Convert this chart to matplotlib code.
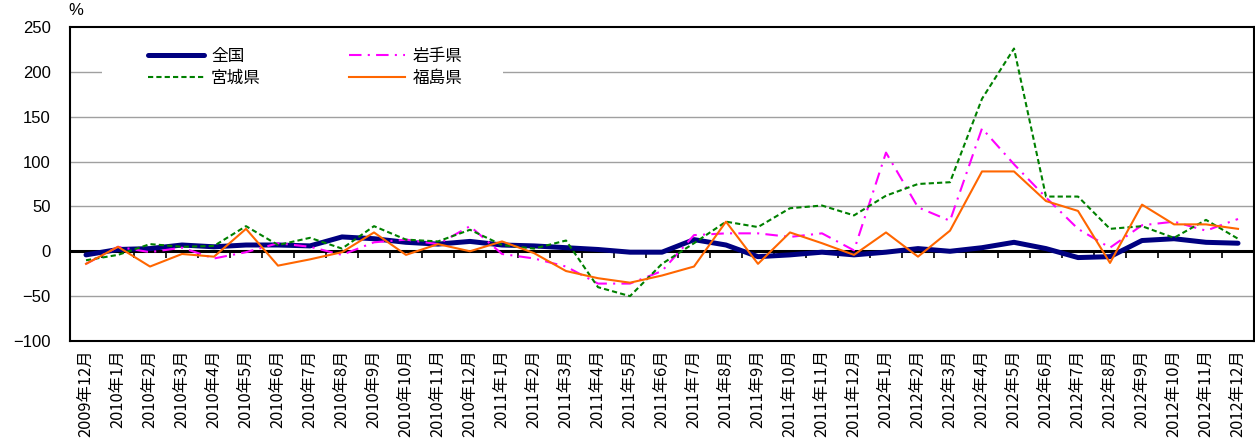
import numpy as np
import matplotlib
matplotlib.use("Agg")
import matplotlib.pyplot as plt
from matplotlib.patches import Rectangle

plt.rcParams['font.family'] = ['Liberation Sans', 'Noto Sans CJK JP', 'DejaVu Sans']

months = ["2009年12月", "2010年1月", "2010年2月", "2010年3月", "2010年4月", "2010年5月",
          "2010年6月", "2010年7月", "2010年8月", "2010年9月", "2010年10月", "2010年11月",
          "2010年12月", "2011年1月", "2011年2月", "2011年3月", "2011年4月", "2011年5月",
          "2011年6月", "2011年7月", "2011年8月", "2011年9月", "2011年10月", "2011年11月",
          "2011年12月", "2012年1月", "2012年2月", "2012年3月", "2012年4月", "2012年5月",
          "2012年6月", "2012年7月", "2012年8月", "2012年9月", "2012年10月", "2012年11月",
          "2012年12月"]

zenkoku = [-4, 2, 3, 7, 5, 7, 7, 6, 16, 14, 10, 8, 11, 7, 6, 4, 2, -1, -1, 13, 7, -6, -4, -1,
           -4, -1, 3, 0, 4, 10, 3, -7, -6, 12, 14, 10, 9]
iwate = [-14, 5, -1, 4, -8, -1, 9, 5, -4, 10, 13, 8, 28, -3, -8, -17, -36, -36, -22, 18, 20, 20,
         16, 20, 1, 110, 49, 34, 137, 97, 60, 25, 4, 29, 33, 23, 36]
miyagi = [-10, -4, 8, 5, 6, 28, 7, 15, 3, 28, 13, 11, 24, 7, 3, 12, -40, -50, -14, 9, 33, 27,
          48, 51, 40, 62, 75, 77, 170, 226, 61, 61, 25, 28, 15, 35, 14]
fukushima = [-14, 5, -17, -3, -6, 25, -16, -9, -1, 21, -4, 8, 0, 11, -2, -22, -30, -35, -27, -17,
             33, -14, 21, 9, -4, 21, -6, 23, 89, 89, 56, 45, -13, 52, 30, 30, 25]

yticks = [-100, -50, 0, 50, 100, 150, 200, 250]

fig = plt.figure(figsize=(12.55, 4.41), dpi=100)
ax = fig.add_axes([70 / 1255, 1 - 341 / 441, 1184 / 1255, 314 / 441])

x = np.arange(len(months))
ax.set_xlim(-0.5, len(months) - 0.5)
ax.set_ylim(-100, 250)

# grid
ax.set_yticks(yticks)
ax.set_yticklabels([str(v).replace('-', '\u2212') for v in yticks], fontsize=12)
for v in yticks[1:-1]:
    if v != 0:
        ax.axhline(v, color='#a0a0a0', lw=1, zorder=1)
ax.tick_params(axis='y', length=0, pad=14)

# white box behind the legend hides the grid
ax.add_patch(Rectangle((32 / 1184, 0.75), 401 / 1184, 0.22, transform=ax.transAxes,
                       facecolor='white', edgecolor='none', zorder=1.5))

l1, = ax.plot(x, zenkoku, color='#000080', lw=3.6, label='全国', zorder=3,
              solid_capstyle='round', solid_joinstyle='round')
l2, = ax.plot(x, iwate, color='#ff00ff', lw=1.5, label='岩手県', zorder=4,
              dashes=(6, 3, 1, 3))
l3, = ax.plot(x, miyagi, color='#008000', lw=1.5, label='宮城県', zorder=5,
              dashes=(2.5, 1.5))
l4, = ax.plot(x, fukushima, color='#ff6600', lw=1.5, label='福島県', zorder=6)

# zero line with category tick marks
zero_pos = (0 - (-100)) / 350
sec = ax.secondary_xaxis(zero_pos)
sec.set_xticks(np.arange(-0.5, len(months), 1.0))
sec.set_xticklabels([])
sec.tick_params(length=5, width=1.2, direction='out', color='black')
sec.spines['bottom'].set_linewidth(2.2)
sec.spines['top'].set_linewidth(2.2)

ax.set_xticks(x)
ax.set_xticklabels(months, rotation=90, fontsize=11.8, family=['Noto Sans CJK JP'],
                   va='top', ha='center')
ax.tick_params(axis='x', length=0, pad=6)

for s in ax.spines.values():
    s.set_linewidth(1.5)
    s.set_color('black')

ax.text(-0.001, 1.03, '%', transform=ax.transAxes, ha='left', va='bottom', fontsize=12)

ax.legend(handles=[l1, l3, l2, l4], ncol=2, loc='upper left', bbox_to_anchor=(0.053, 0.98),
          frameon=False, handlelength=3.35, columnspacing=5.3, handletextpad=0.45,
          labelspacing=0.3, prop={'family': ['Noto Sans CJK JP'], 'size': 12})

fig.savefig('out.png', dpi=100)
